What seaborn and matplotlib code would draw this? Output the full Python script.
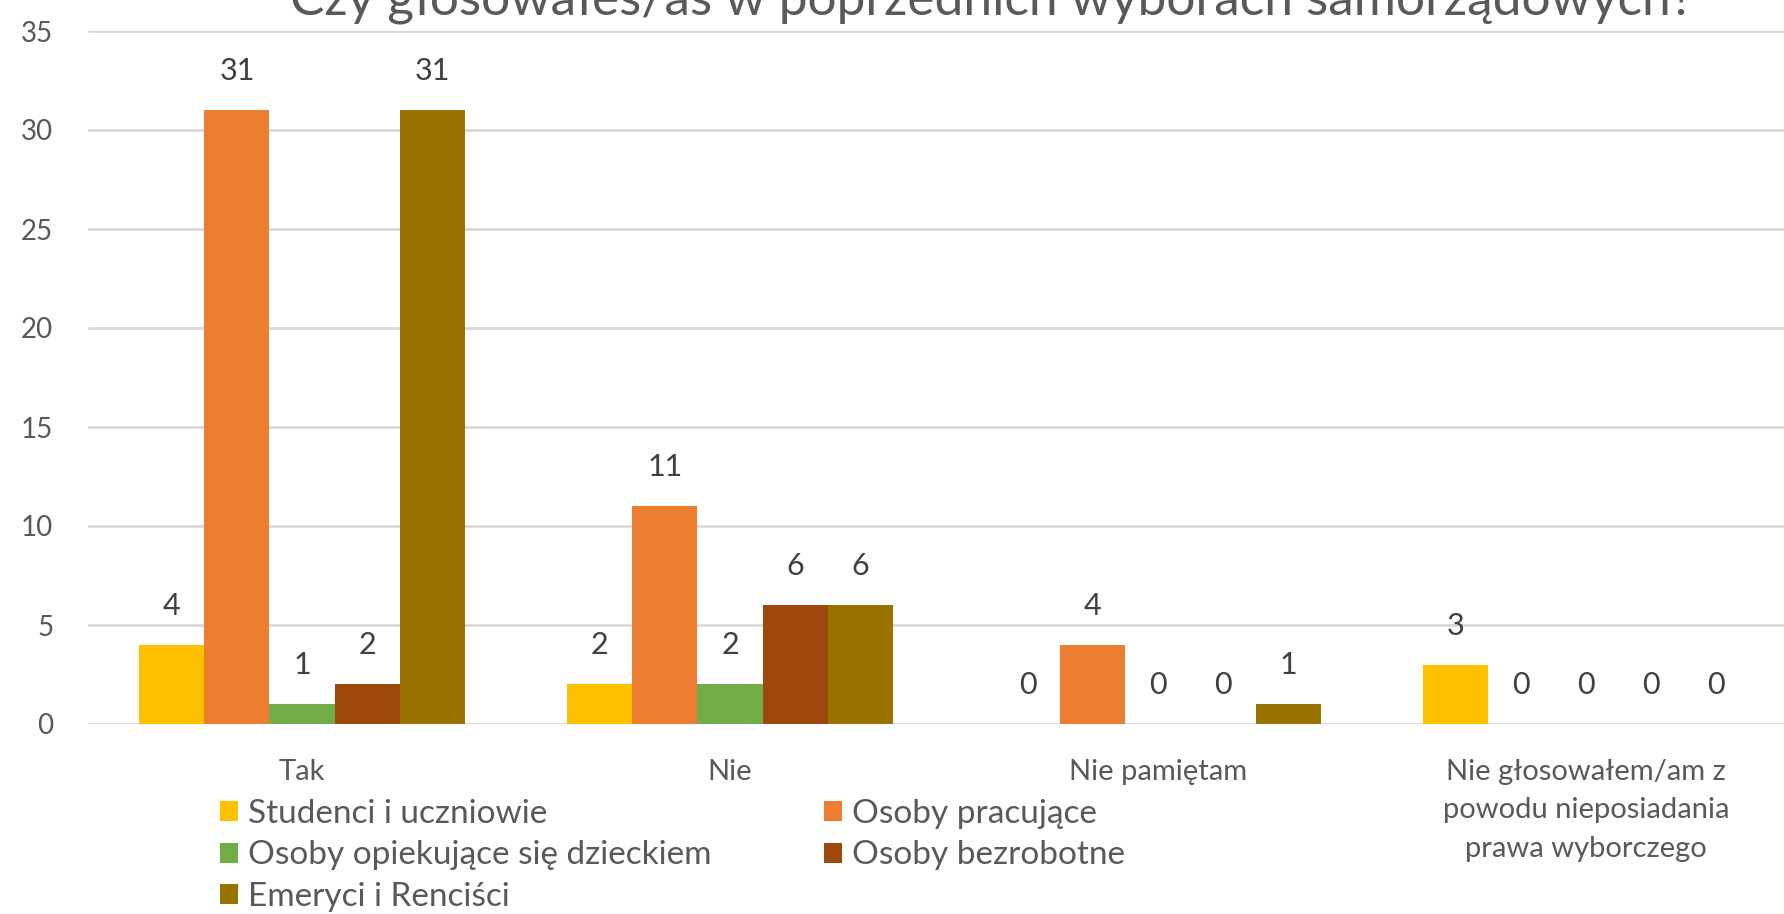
import pandas as pd
import matplotlib.pyplot as plt
import seaborn as sns

# dane
kategorie = ['Tak', 'Nie', 'Nie pamiętam',
             'Nie głosowałem/am z\npowodu nieposiadania\nprawa wyborczego']
grupy = ['Studenci i uczniowie', 'Osoby pracujące', 'Osoby opiekujące się dzieckiem',
         'Osoby bezrobotne', 'Emeryci i Renciści']
studenci = [4, 2, 0, 3]
pracujace = [31, 11, 4, 0]
opiekujace = [1, 2, 0, 0]
bezrobotne = [2, 6, 0, 0]
emeryci = [31, 6, 1, 0]
kolory = ['#FFC000', '#ED7D31', '#70AD47', '#9E480E', '#997300']
tytul = 'Czy głosowałeś/aś w poprzednich wyborach samorządowych?'

serie = [studenci, pracujace, opiekujace, bezrobotne, emeryci]
wiersze = []
for g, wartosci in zip(grupy, serie):
    for k, v in zip(kategorie, wartosci):
        wiersze.append({'kategoria': k, 'grupa': g, 'liczba': v})
df = pd.DataFrame(wiersze)

sns.set_theme(style='white')
plt.rcParams['font.family'] = ['Lato', 'DejaVu Sans']
SZARY = '#595959'

fig = plt.figure(figsize=(17.84, 9.14), dpi=100)
ax = fig.add_axes([88 / 1784, 1 - 724 / 914, 1712 / 1784, 693 / 914])

sns.barplot(data=df, x='kategoria', y='liczba', hue='grupa', order=kategorie,
            hue_order=grupy, palette=kolory, width=0.76, saturation=1,
            edgecolor='none', ax=ax)

for c in ax.containers:
    ax.bar_label(c, labels=[f'{int(v)}' for v in c.datavalues], padding=18,
                 fontsize=22, color='#404040')

ax.set_ylim(0, 35)
ax.set_xlim(-0.5, 3.5)
ax.set_yticks(range(0, 36, 5))
ax.yaxis.grid(True, color='#D9D9D9', linewidth=2)
ax.set_axisbelow(True)
sns.despine(ax=ax, left=True, bottom=True, top=True, right=True)
ax.tick_params(axis='y', length=0, pad=25, labelsize=20, labelcolor=SZARY)
ax.tick_params(axis='x', length=0, pad=25, labelsize=21, labelcolor=SZARY)
for t in ax.get_xticklabels():
    t.set_linespacing(1.6)
ax.set_xlabel('')
ax.set_ylabel('')

# legenda: kolejnosc wierszami jak w oryginale
uchwyty, etykiety = ax.get_legend_handles_labels()
ax.get_legend().remove()
kolejnosc = [0, 2, 4, 1, 3]
fig.legend([uchwyty[i] for i in kolejnosc], [etykiety[i] for i in kolejnosc],
           ncol=2, loc='upper left', bbox_to_anchor=(220 / 1784, 1 - 799 / 914),
           frameon=False, fontsize=24, labelcolor=SZARY, handlelength=0.55,
           handleheight=0.55, handletextpad=0.3, columnspacing=3.35,
           labelspacing=0.34, borderpad=0, borderaxespad=0)

fig.text(992 / 1784, 1 - 14 / 914, tytul, ha='center', va='baseline',
         fontsize=37, color=SZARY)

plt.savefig('out.png', dpi=100)
plt.close()
